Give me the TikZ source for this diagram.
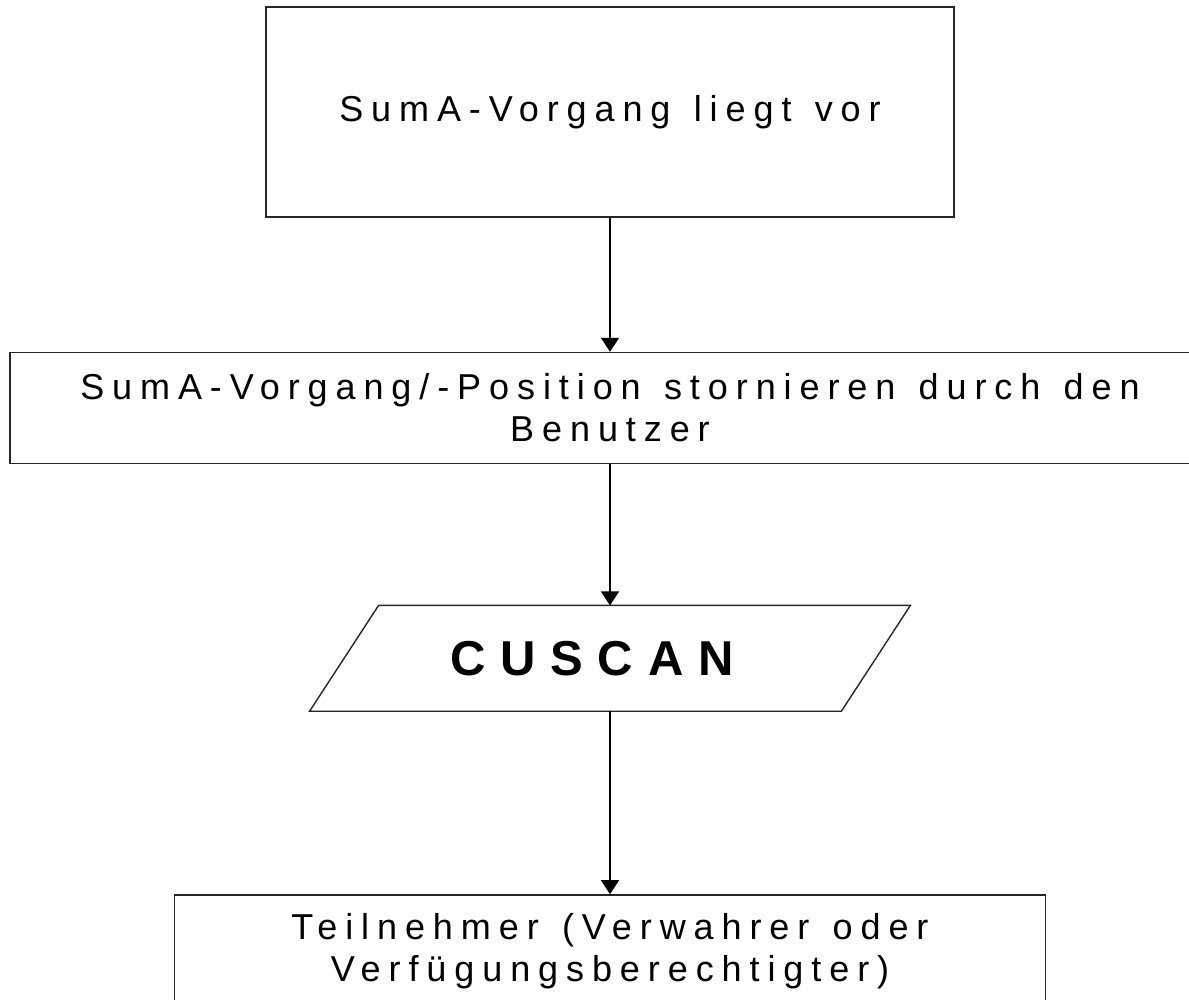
\documentclass[tikz,border=0pt]{standalone}
\usepackage{fontspec}
\usepackage{tikz}
\usetikzlibrary{arrows.meta, positioning}

\newfontfamily\boxfont[LetterSpace=22,WordSpace=1.3]{Liberation Sans}
\newfontfamily\boldboxfont[LetterSpace=30]{Liberation Sans Bold}

\begin{document}
\begin{tikzpicture}[
    x=0.5pt, y=0.5pt,
    stepbox/.style={rectangle, draw=black!85, line width=0.8pt, inner sep=0pt, align=center, font=\boxfont\fontsize{18}{21}\selectfont},
    iobox/.style={rectangle, inner sep=0pt, minimum width=265.5pt, minimum height=52.5pt, font=\boldboxfont\fontsize{24.5}{28}\selectfont},
    arrow/.style={-{Triangle[width=9pt, length=7pt]}, line width=0.7pt, draw=black}
]
    \useasboundingbox (0,0) rectangle (1189,-1000);
    \clip (0,0) rectangle (1189,-1000);

    \node[stepbox, minimum width=344pt, minimum height=105pt] (p1) at (610,-112) {SumA-Vorgang liegt vor};
    \node[stepbox, minimum width=600pt, minimum height=55.5pt, below=67pt of p1] (p2) {SumA-Vorgang/-Position stornieren durch den\\Benutzer};
    \node[iobox, below=70.5pt of p2] (p3) {\hspace*{-18pt}CUSCAN};
    \node[stepbox, minimum width=435.5pt, minimum height=56pt, below=91.5pt of p3] (p4) {Teilnehmer (Verwahrer oder\\Verfügungsberechtigter)};

    % parallelogram for the data node
    \draw[draw=black!85, line width=0.7pt] ([xshift=17.25pt]p3.north west) -- ([xshift=17.25pt]p3.north east)
        -- ([xshift=-17.25pt]p3.south east) -- ([xshift=-17.25pt]p3.south west) -- cycle;

    \draw[arrow] (p1) -- (p2);
    \draw[arrow] (p2) -- (p3);
    \draw[arrow] (p3) -- (p4);
\end{tikzpicture}
\end{document}
